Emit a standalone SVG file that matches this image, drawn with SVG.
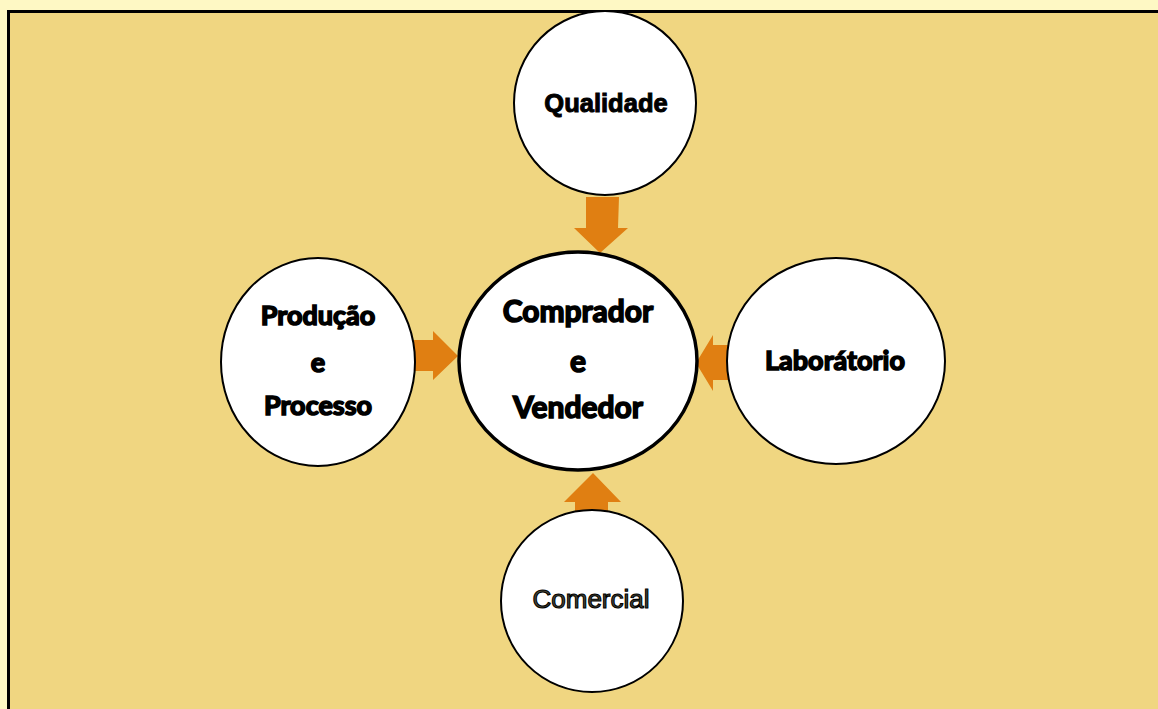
<svg xmlns="http://www.w3.org/2000/svg" width="1158" height="709" viewBox="0 0 1158 709">
<style>
.node{fill:#ffffff;stroke:#000000;stroke-width:2}
.main{fill:#ffffff;stroke:#000000;stroke-width:3.5}
.arrow{fill:#E07F12}
.cal{font-family:Lato,"Open Sans","Liberation Sans",sans-serif;font-weight:bold;fill:#000;stroke:#000;stroke-width:1.6;text-anchor:middle}
.ari{font-family:"Liberation Sans",Arial,sans-serif;font-weight:bold;fill:#000;stroke:#000;stroke-width:1;text-anchor:middle}
</style>
<rect x="0" y="0" width="1158" height="709" fill="#FEF8C4"/>
<rect x="8.5" y="11.5" width="1160" height="710" fill="#F0D681" stroke="#000" stroke-width="3"/>
<g id="connectors">
<polygon class="arrow" points="586,197 619,197 618,228 628,228 600,253 574,228 586,228"/>
<polygon class="arrow" points="414,340 433,340 433,331 458,356 433,380 433,371 414,371"/>
<polygon class="arrow" points="728,345 713,345 713,335 696,363 713,391 713,380 728,380"/>
<polygon class="arrow" points="575,515 575,502 564,502 593,473 621,502 608,502 608,515"/>
</g>
<g id="qualidade">
<ellipse class="node" cx="605" cy="103" rx="91" ry="92"/>
<text class="ari" x="606" y="112" font-size="25.5">Qualidade</text>
</g>
<g id="producao">
<ellipse class="node" cx="318" cy="362" rx="97" ry="104"/>
<text class="cal" x="318" y="325" font-size="27">Produção</text>
<text class="cal" x="318" y="372" font-size="27">e</text>
<text class="cal" x="318" y="415" font-size="27">Processo</text>
</g>
<g id="comprador">
<ellipse class="main" cx="578" cy="361" rx="119" ry="109"/>
<text class="cal" x="578" y="322" font-size="30">Comprador</text>
<text class="cal" x="578" y="372" font-size="30">e</text>
<text class="cal" x="578" y="418" font-size="30">Vendedor</text>
</g>
<g id="laboratorio">
<ellipse class="node" cx="836" cy="361" rx="109" ry="103"/>
<text class="cal" x="835" y="370" font-size="27" stroke-width="0.6">Laborátorio</text>
</g>
<g id="comercial">
<ellipse class="node" cx="592" cy="601" rx="91" ry="91"/>
<text x="591" y="608" font-size="26" font-family="'Liberation Sans',Arial,sans-serif" fill="#4a4a38" stroke="#000" stroke-width="1.1" text-anchor="middle">Comercial</text>
</g>
</svg>
